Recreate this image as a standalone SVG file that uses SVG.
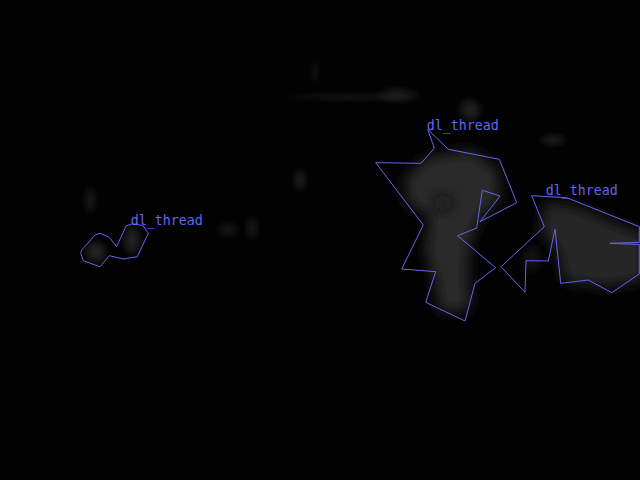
<svg xmlns="http://www.w3.org/2000/svg" width="640" height="480" viewBox="0 0 640 480">
<style>
.poly{fill:none;stroke:#6464f0;stroke-width:1;stroke-linejoin:miter}
.lbl{font-family:"DejaVu Sans Mono","Liberation Mono",monospace;font-size:13.3px;fill:#6464f0}
.soft{fill:url(#glow)}
</style>
<defs>
<radialGradient id="glow">
<stop offset="0" stop-color="#fff" stop-opacity="1"/>
<stop offset="0.5" stop-color="#fff" stop-opacity="0.6"/>
<stop offset="1" stop-color="#fff" stop-opacity="0"/>
</radialGradient>
<filter id="b6" x="-50%" y="-50%" width="200%" height="200%"><feGaussianBlur stdDeviation="7"/></filter>
</defs>
<rect width="640" height="480" fill="#020202"/>
<g id="background">
<ellipse class="soft" cx="350" cy="97" rx="70" ry="6" opacity="0.06"/>
<ellipse class="soft" cx="398" cy="95" rx="24" ry="10" opacity="0.1"/>
<ellipse class="soft" cx="315" cy="72" rx="6" ry="12" opacity="0.05"/>
<ellipse class="soft" cx="470" cy="110" rx="14" ry="14" opacity="0.13"/>
<ellipse class="soft" cx="553" cy="140" rx="16" ry="8" opacity="0.1"/>
<ellipse class="soft" cx="90" cy="200" rx="9" ry="16" opacity="0.08"/>
<ellipse class="soft" cx="300" cy="180" rx="9" ry="14" opacity="0.1"/>
<ellipse class="soft" cx="228" cy="230" rx="14" ry="10" opacity="0.07"/>
<ellipse class="soft" cx="252" cy="228" rx="9" ry="14" opacity="0.08"/>
</g>
<g id="dl_thread_1">
<path d="M405,178 L428,157 L470,150 L497,168 L500,200 L482,215 L470,240 L468,272 L470,310 L440,312 L434,278 L425,252 L430,215 L408,205 Z" fill="#2a2a2a" filter="url(#b6)"/>
<ellipse cx="443" cy="203" rx="9" ry="8" fill="#0e0e0e" opacity="0.8" filter="url(#b6)"/>
<polygon class="poly" points="427.7,129.3 434.3,148.3 421,163.3 375.7,162.7 423.3,225 401.7,269 435.7,271.7 425.7,302.3 465,321 475,283.3 495.7,267.7 457.7,235.7 476.7,228 482.3,190.3 500,196 480,221.7 516.7,202.7 499.3,159.3 448.3,149.3"/>
<text class="lbl" x="426.8" y="130">dl_thread</text>
</g>
<g id="dl_thread_2">
<path d="M545,202 L575,206 L620,225 L645,235 L645,280 L605,287 L565,282 L556,248 L540,232 Z" fill="#282828" filter="url(#b6)"/>
<ellipse class="soft" cx="532" cy="258" rx="14" ry="18" opacity="0.07"/>
<polygon class="poly" points="531.7,195.7 566.7,197.7 639.3,226.7 639.3,242.3 610,243.3 639.3,244.5 639.3,274 611.7,292.7 588.3,280 560.7,283.3 555,229 548.3,261 526,260.7 525,292.3 501,266.7 544.3,226.7"/>
<text class="lbl" x="545.8" y="195">dl_thread</text>
</g>
<g id="dl_thread_3">
<ellipse class="soft" cx="96" cy="252" rx="14" ry="14" opacity="0.15"/>
<ellipse class="soft" cx="132" cy="240" rx="12" ry="18" opacity="0.14"/>
<polygon class="poly" points="100,233.3 109.3,237.3 116.7,246.7 126,226 131.7,224 142.7,225.3 148.3,233.3 137.3,256.7 123.3,259 109.3,255.7 100,266.7 83.3,260.7 80.7,253.3 81.7,250 90.7,240 95,235"/>
<text class="lbl" x="130.8" y="225">dl_thread</text>
</g>
<g id="connectors"/>
</svg>
